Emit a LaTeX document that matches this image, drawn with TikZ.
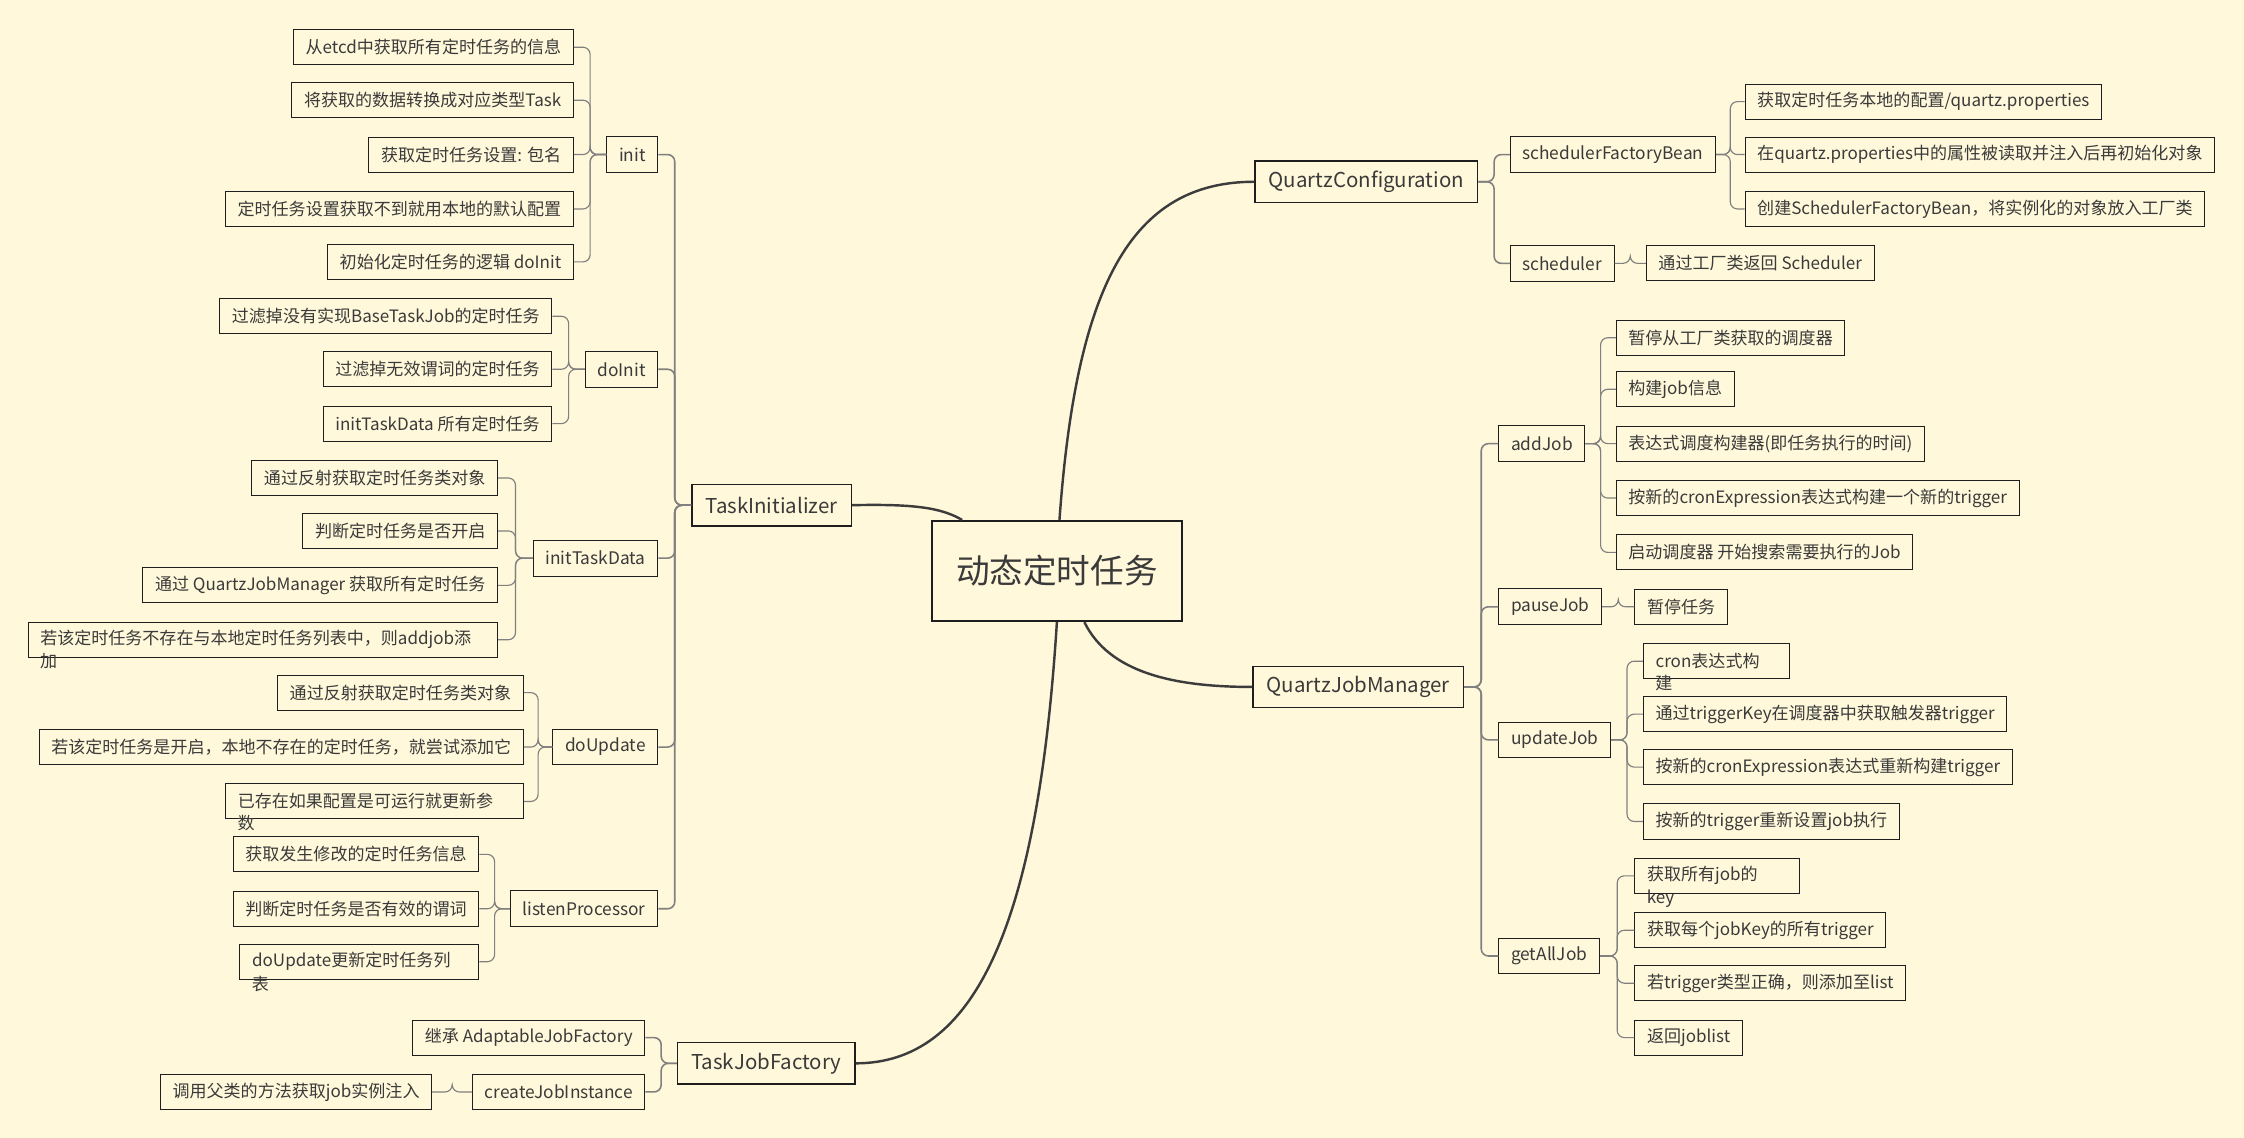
\documentclass[tikz,border=0pt]{standalone}
\usepackage{fontspec}
\newfontfamily\cjk{Noto Sans CJK SC}
\usetikzlibrary{calc}
\definecolor{bg}{HTML}{FFF8DA}
\definecolor{boxc}{HTML}{1E1E1E}
\definecolor{txt}{HTML}{3A3A3A}
\definecolor{linec}{HTML}{808080}
\definecolor{curvec}{HTML}{3C3C3C}
\newcommand\rconn[3]{\draw[#1] (#2.east) -- ($(#2.east)!.5!(#2.east-|#3.west)$) |- (#3.west);}
\newcommand\lconn[3]{\draw[#1] (#2.west) -- ($(#2.west)!.5!(#2.west-|#3.east)$) |- (#3.east);}
\tikzset{
 root/.style={draw=boxc, line width=1.4pt, minimum width=175pt, minimum height=70pt, text=txt, font=\cjk\fontsize{23.5}{28}\selectfont},
 lone/.style={draw=boxc, line width=0.9pt, minimum height=29pt, inner xsep=9.5pt, text=txt, font=\cjk\fontsize{14.3}{17}\selectfont},
 ltwo/.style={draw=boxc, line width=0.7pt, minimum height=25pt, inner xsep=8.5pt, text=txt, font=\cjk\fontsize{12.1}{15}\selectfont},
 leaf/.style={draw=boxc, line width=0.7pt, minimum height=24.5pt, inner xsep=8.5pt, text=txt, font=\cjk\fontsize{11.9}{15}\selectfont},
 over/.style={inner sep=0pt, anchor=north west, text=txt, font=\cjk\fontsize{11.9}{15}\selectfont},
 bigc/.style={draw=curvec, line width=1.7pt},
 cone/.style={draw=linec, line width=1.1pt, rounded corners=5pt},
 ctwo/.style={draw=linec, line width=0.8pt, rounded corners=5pt},
}
\begin{document}
\begin{tikzpicture}[x=1pt,y=-1pt]
\fill[bg] (0,0) rectangle (1568,795);
\useasboundingbox (0,0) rectangle (1568,795);

% center
\node[root] (ctr) at (738.5,399) {动态定时任务};

% ---------- right: QuartzConfiguration
\node[lone, anchor=east] (qc) at (1033,127) {QuartzConfiguration};
\node[ltwo, anchor=west] (sfb) at (1055,108) {schedulerFactoryBean};
\node[ltwo, anchor=west] (sch) at (1055,184) {scheduler};
\node[leaf, anchor=west] (sfba) at (1219,71) {获取定时任务本地的配置/quartz.properties};
\node[leaf, anchor=west] (sfbb) at (1219,108) {在quartz.properties中的属性被读取并注入后再初始化对象};
\node[leaf, anchor=west] (sfbc) at (1219,146) {创建SchedulerFactoryBean，将实例化的对象放入工厂类};
\node[leaf, anchor=west] (scha) at (1150,184) {通过工厂类返回 Scheduler};

% ---------- right: QuartzJobManager
\node[lone, anchor=east] (qjm) at (1023,480) {QuartzJobManager};
\node[ltwo, anchor=west] (add) at (1047,310) {addJob};
\node[ltwo, anchor=west] (pause) at (1047,424) {pauseJob};
\node[ltwo, anchor=west] (upd) at (1047,517) {updateJob};
\node[ltwo, anchor=west] (all) at (1047,668) {getAllJob};

\node[leaf, anchor=west] (adda) at (1129,236) {暂停从工厂类获取的调度器};
\node[leaf, anchor=west] (addb) at (1129,272) {构建job信息};
\node[leaf, anchor=west] (addc) at (1129,310) {表达式调度构建器(即任务执行的时间)};
\node[leaf, anchor=west] (addd) at (1129,348) {按新的cronExpression表达式构建一个新的trigger};
\node[leaf, anchor=west] (adde) at (1129,386) {启动调度器 开始搜索需要执行的Job};

\node[leaf, anchor=west] (pausea) at (1142,424) {暂停任务};

\node[leaf, anchor=west, text width=85pt, align=left] (upda) at (1148,462) {cron表达式构};
\node[over] (updax) at ([xshift=8.5pt,yshift=3pt]upda.south west) {建};
\node[leaf, anchor=west] (updb) at (1148,499) {通过triggerKey在调度器中获取触发器trigger};
\node[leaf, anchor=west] (updc) at (1148,536) {按新的cronExpression表达式重新构建trigger};
\node[leaf, anchor=west] (updd) at (1148,574) {按新的trigger重新设置job执行};

\node[leaf, anchor=west, text width=98pt, align=left] (alla) at (1142,612) {获取所有job的};
\node[over] (allax) at ([xshift=8.5pt,yshift=3pt]alla.south west) {key};
\node[leaf, anchor=west] (allb) at (1142,650) {获取每个jobKey的所有trigger};
\node[leaf, anchor=west] (allc) at (1142,687) {若trigger类型正确，则添加至list};
\node[leaf, anchor=west] (alld) at (1142,725) {返回joblist};

% ---------- left: TaskInitializer
\node[lone, anchor=west] (ti) at (483,353) {TaskInitializer};
\node[ltwo, anchor=east] (init) at (460,108) {init};
\node[ltwo, anchor=east] (doinit) at (460,258) {doInit};
\node[ltwo, anchor=east] (itd) at (460,390) {initTaskData};
\node[ltwo, anchor=east] (dou) at (460,522) {doUpdate};
\node[ltwo, anchor=east] (lp) at (460,635) {listenProcessor};

\node[leaf, anchor=east] (inita) at (401,33) {从etcd中获取所有定时任务的信息};
\node[leaf, anchor=east] (initb) at (401,70) {将获取的数据转换成对应类型Task};
\node[leaf, anchor=east] (initc) at (401,108) {获取定时任务设置: 包名};
\node[leaf, anchor=east] (initd) at (401,146) {定时任务设置获取不到就用本地的默认配置};
\node[leaf, anchor=east] (inite) at (401,183) {初始化定时任务的逻辑 doInit};

\node[leaf, anchor=east] (doinita) at (386,221) {过滤掉没有实现BaseTaskJob的定时任务};
\node[leaf, anchor=east] (doinitb) at (386,258) {过滤掉无效谓词的定时任务};
\node[leaf, anchor=east] (doinitc) at (386,296) {initTaskData 所有定时任务};

\node[leaf, anchor=east] (itda) at (348,334) {通过反射获取定时任务类对象};
\node[leaf, anchor=east] (itdb) at (348,371) {判断定时任务是否开启};
\node[leaf, anchor=east] (itdc) at (348,409) {通过 QuartzJobManager 获取所有定时任务};
\node[leaf, anchor=east, text width=311pt, align=left] (itdd) at (348,447) {若该定时任务不存在与本地定时任务列表中，则addjob添};
\node[over] (itddx) at ([xshift=8.5pt,yshift=3pt]itdd.south west) {加};

\node[leaf, anchor=east] (doua) at (366,484) {通过反射获取定时任务类对象};
\node[leaf, anchor=east] (doub) at (366,522) {若该定时任务是开启，本地不存在的定时任务，就尝试添加它};
\node[leaf, anchor=east, text width=191pt, align=left] (douc) at (366,560) {已存在如果配置是可运行就更新参};
\node[over] (doucx) at ([xshift=8.5pt,yshift=3pt]douc.south west) {数};

\node[leaf, anchor=east] (lpa) at (335,597) {获取发生修改的定时任务信息};
\node[leaf, anchor=east] (lpb) at (335,635) {判断定时任务是否有效的谓词};
\node[leaf, anchor=east, text width=150pt, align=left] (lpc) at (335,672) {doUpdate更新定时任务列};
\node[over] (lpcx) at ([xshift=8.5pt,yshift=3pt]lpc.south west) {表};

% ---------- left: TaskJobFactory
\node[lone, anchor=west] (tjf) at (473,743) {TaskJobFactory};
\node[leaf, anchor=east] (tjfa) at (451,725) {继承 AdaptableJobFactory};
\node[ltwo, anchor=east] (cji) at (451,763) {createJobInstance};
\node[leaf, anchor=east] (cjia) at (302,763) {调用父类的方法获取job实例注入};

% ---------- main curves
\coordinate (ctop) at ([xshift=90pt]ctr.north west);
\coordinate (ctl) at ([xshift=22pt]ctr.north west);
\coordinate (cbr) at ([xshift=-69pt]ctr.south east);
\draw[bigc] (ctop) .. controls (752,200) and (790,127) .. (qc.west);
\draw[bigc] (cbr) .. controls (775,470) and (820,480) .. (qjm.west);
\draw[bigc] (ti.east) .. controls (640,352) and (658,355) .. (ctl);
\draw[bigc] (ctr.south) .. controls (725,650) and (680,743) .. (tjf.east);

% ---------- level 1 -> 2
\rconn{cone}{qc}{sfb}
\rconn{cone}{qc}{sch}
\rconn{cone}{qjm}{add}
\rconn{cone}{qjm}{pause}
\rconn{cone}{qjm}{upd}
\rconn{cone}{qjm}{all}
\lconn{cone}{ti}{init}
\lconn{cone}{ti}{doinit}
\lconn{cone}{ti}{itd}
\lconn{cone}{ti}{dou}
\lconn{cone}{ti}{lp}
\lconn{cone}{tjf}{tjfa}
\lconn{cone}{tjf}{cji}

% ---------- level 2 -> 3
\rconn{ctwo}{sfb}{sfba}
\rconn{ctwo}{sfb}{sfbb}
\rconn{ctwo}{sfb}{sfbc}
\rconn{ctwo}{sch}{scha}
\rconn{ctwo}{add}{adda}
\rconn{ctwo}{add}{addb}
\rconn{ctwo}{add}{addc}
\rconn{ctwo}{add}{addd}
\rconn{ctwo}{add}{adde}
\rconn{ctwo}{pause}{pausea}
\rconn{ctwo}{upd}{upda}
\rconn{ctwo}{upd}{updb}
\rconn{ctwo}{upd}{updc}
\rconn{ctwo}{upd}{updd}
\rconn{ctwo}{all}{alla}
\rconn{ctwo}{all}{allb}
\rconn{ctwo}{all}{allc}
\rconn{ctwo}{all}{alld}
\lconn{ctwo}{init}{inita}
\lconn{ctwo}{init}{initb}
\lconn{ctwo}{init}{initc}
\lconn{ctwo}{init}{initd}
\lconn{ctwo}{init}{inite}
\lconn{ctwo}{doinit}{doinita}
\lconn{ctwo}{doinit}{doinitb}
\lconn{ctwo}{doinit}{doinitc}
\lconn{ctwo}{itd}{itda}
\lconn{ctwo}{itd}{itdb}
\lconn{ctwo}{itd}{itdc}
\lconn{ctwo}{itd}{itdd}
\lconn{ctwo}{dou}{doua}
\lconn{ctwo}{dou}{doub}
\lconn{ctwo}{dou}{douc}
\lconn{ctwo}{lp}{lpa}
\lconn{ctwo}{lp}{lpb}
\lconn{ctwo}{lp}{lpc}
\lconn{ctwo}{cji}{cjia}
\end{tikzpicture}
\end{document}
